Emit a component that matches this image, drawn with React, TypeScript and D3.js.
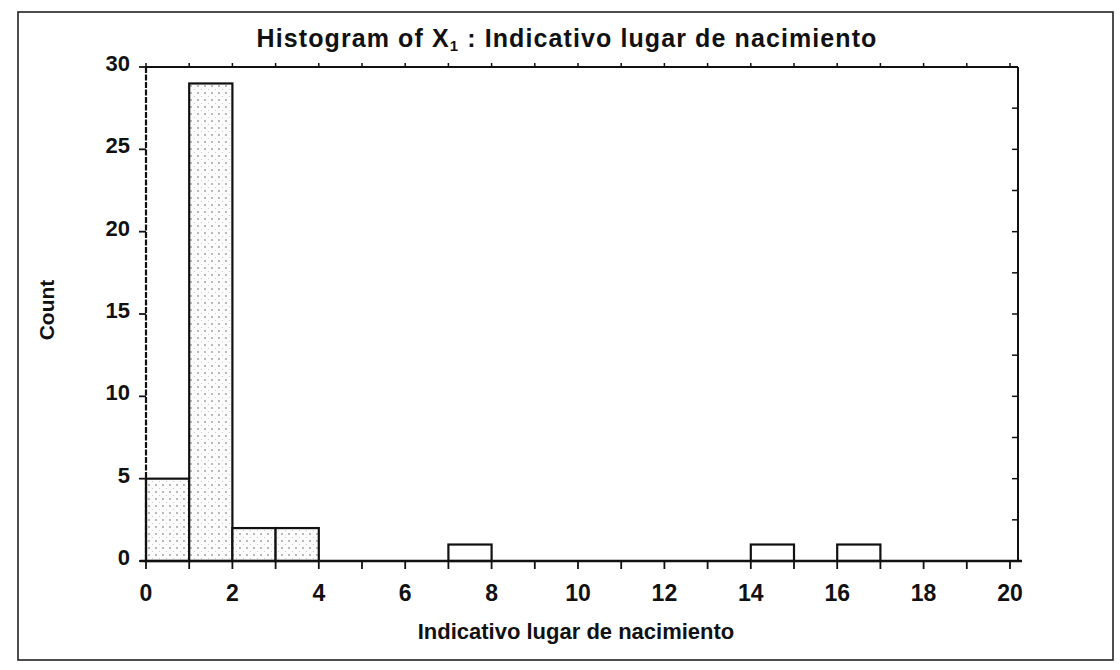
import React from "react";
import * as d3 from "d3";

const binStarts = [0, 1, 2, 3, 7, 14, 16];
const binCounts = [5, 29, 2, 2, 1, 1, 1];
const binWidth = 1;
const xTickLabels = [0, 2, 4, 6, 8, 10, 12, 14, 16, 18, 20];
const yTickLabels = [0, 5, 10, 15, 20, 25, 30];
const titleText = "Histogram of X";
const titleSub = "1";
const titleRest = " : Indicativo lugar de nacimiento";
const xLabel = "Indicativo lugar de nacimiento";
const yLabel = "Count";

export default function App() {
  const W = 1120;
  const H = 670;
  const left = 146;
  const right = 1018;
  const top = 67;
  const bottom = 561;
  const x = d3.scaleLinear().domain([0, 20]).range([left, 1010]);
  const y = d3.scaleLinear().domain([0, 30]).range([bottom, top]);
  const font = "'Liberation Sans', Arial, sans-serif";
  const minorX = d3.range(0, 21, 1);
  const minorY = d3.range(0, 30.01, 2.5);
  const topTicks = d3.range(0, 21, 1);

  return (
    <svg width={W} height={H} style={{ position: "absolute", left: 0, top: 0, background: "#fff" }}>
      <defs>
        <pattern id="dots" width="7" height="7" patternUnits="userSpaceOnUse">
          <rect width="7" height="7" fill="#fbfbfb" />
          <circle cx="2" cy="2" r="0.9" fill="#9a9a9a" />
          <circle cx="5.5" cy="5.5" r="0.6" fill="#c4c4c4" />
        </pattern>
      </defs>
      <rect x={0} y={0} width={W} height={H} fill="#fff" />
      {/* outer border */}
      <rect x={18} y={12} width={1095} height={648} fill="none" stroke="#222" strokeWidth={1.6} />

      {/* title */}
      <text x={567} y={47} textAnchor="middle" fontFamily={font} fontWeight="bold" fontSize={25} letterSpacing={1.1} fill="#111">
        {titleText}
        <tspan fontSize={15} dy={4}>{titleSub}</tspan>
        <tspan dy={-4}>{titleRest}</tspan>
      </text>

      {/* bars */}
      {binStarts.map((s, i) => (
        <rect
          key={i}
          x={x(s)}
          y={y(binCounts[i])}
          width={x(s + binWidth) - x(s)}
          height={y(0) - y(binCounts[i])}
          fill={s < 4 ? "url(#dots)" : "#fff"}
          stroke="#111"
          strokeWidth={2.2}
        />
      ))}

      {/* frame */}
      <line x1={left} y1={top} x2={right} y2={top} stroke="#111" strokeWidth={2} />
      <line x1={right} y1={top} x2={right} y2={bottom} stroke="#111" strokeWidth={2} />
      <line x1={left} y1={top} x2={left} y2={bottom} stroke="#111" strokeWidth={2.2} strokeDasharray="6 1.5" />
      <line x1={left - 6} y1={bottom} x2={right + 4} y2={bottom} stroke="#111" strokeWidth={2.4} />

      {/* x ticks */}
      {minorX.map((v) => (
        <line key={"xt" + v} x1={x(v)} y1={bottom} x2={x(v)} y2={bottom + 8} stroke="#111" strokeWidth={1.8} />
      ))}
      {topTicks.map((v) => (
        <line key={"tt" + v} x1={x(v)} y1={top} x2={x(v)} y2={top - 4} stroke="#111" strokeWidth={1.5} />
      ))}
      {xTickLabels.map((v) => (
        <text key={"xl" + v} x={x(v)} y={bottom + 40} textAnchor="middle" fontFamily={font} fontWeight="bold" fontSize={23} fill="#111">
          {v}
        </text>
      ))}

      {/* y ticks */}
      {yTickLabels.map((v) => (
        <line key={"yt" + v} x1={left} y1={y(v)} x2={left - 7} y2={y(v)} stroke="#111" strokeWidth={1.8} />
      ))}
      {minorY.map((v) => (
        <line key={"yr" + v} x1={right} y1={y(v)} x2={right - 6} y2={y(v)} stroke="#111" strokeWidth={1.5} />
      ))}
      {yTickLabels.map((v) => (
        <text key={"yl" + v} x={left - 16} y={y(v) + 4} textAnchor="end" fontFamily={font} fontWeight="bold" fontSize={22} fill="#111">
          {v}
        </text>
      ))}

      {/* axis titles */}
      <text x={576} y={639} textAnchor="middle" fontFamily={font} fontWeight="bold" fontSize={22} fill="#111">
        {xLabel}
      </text>
      <text
        transform={`translate(54, 310) rotate(-90)`}
        textAnchor="middle"
        fontFamily={font}
        fontWeight="bold"
        fontSize={21}
        fill="#111"
      >
        {yLabel}
      </text>
    </svg>
  );
}
